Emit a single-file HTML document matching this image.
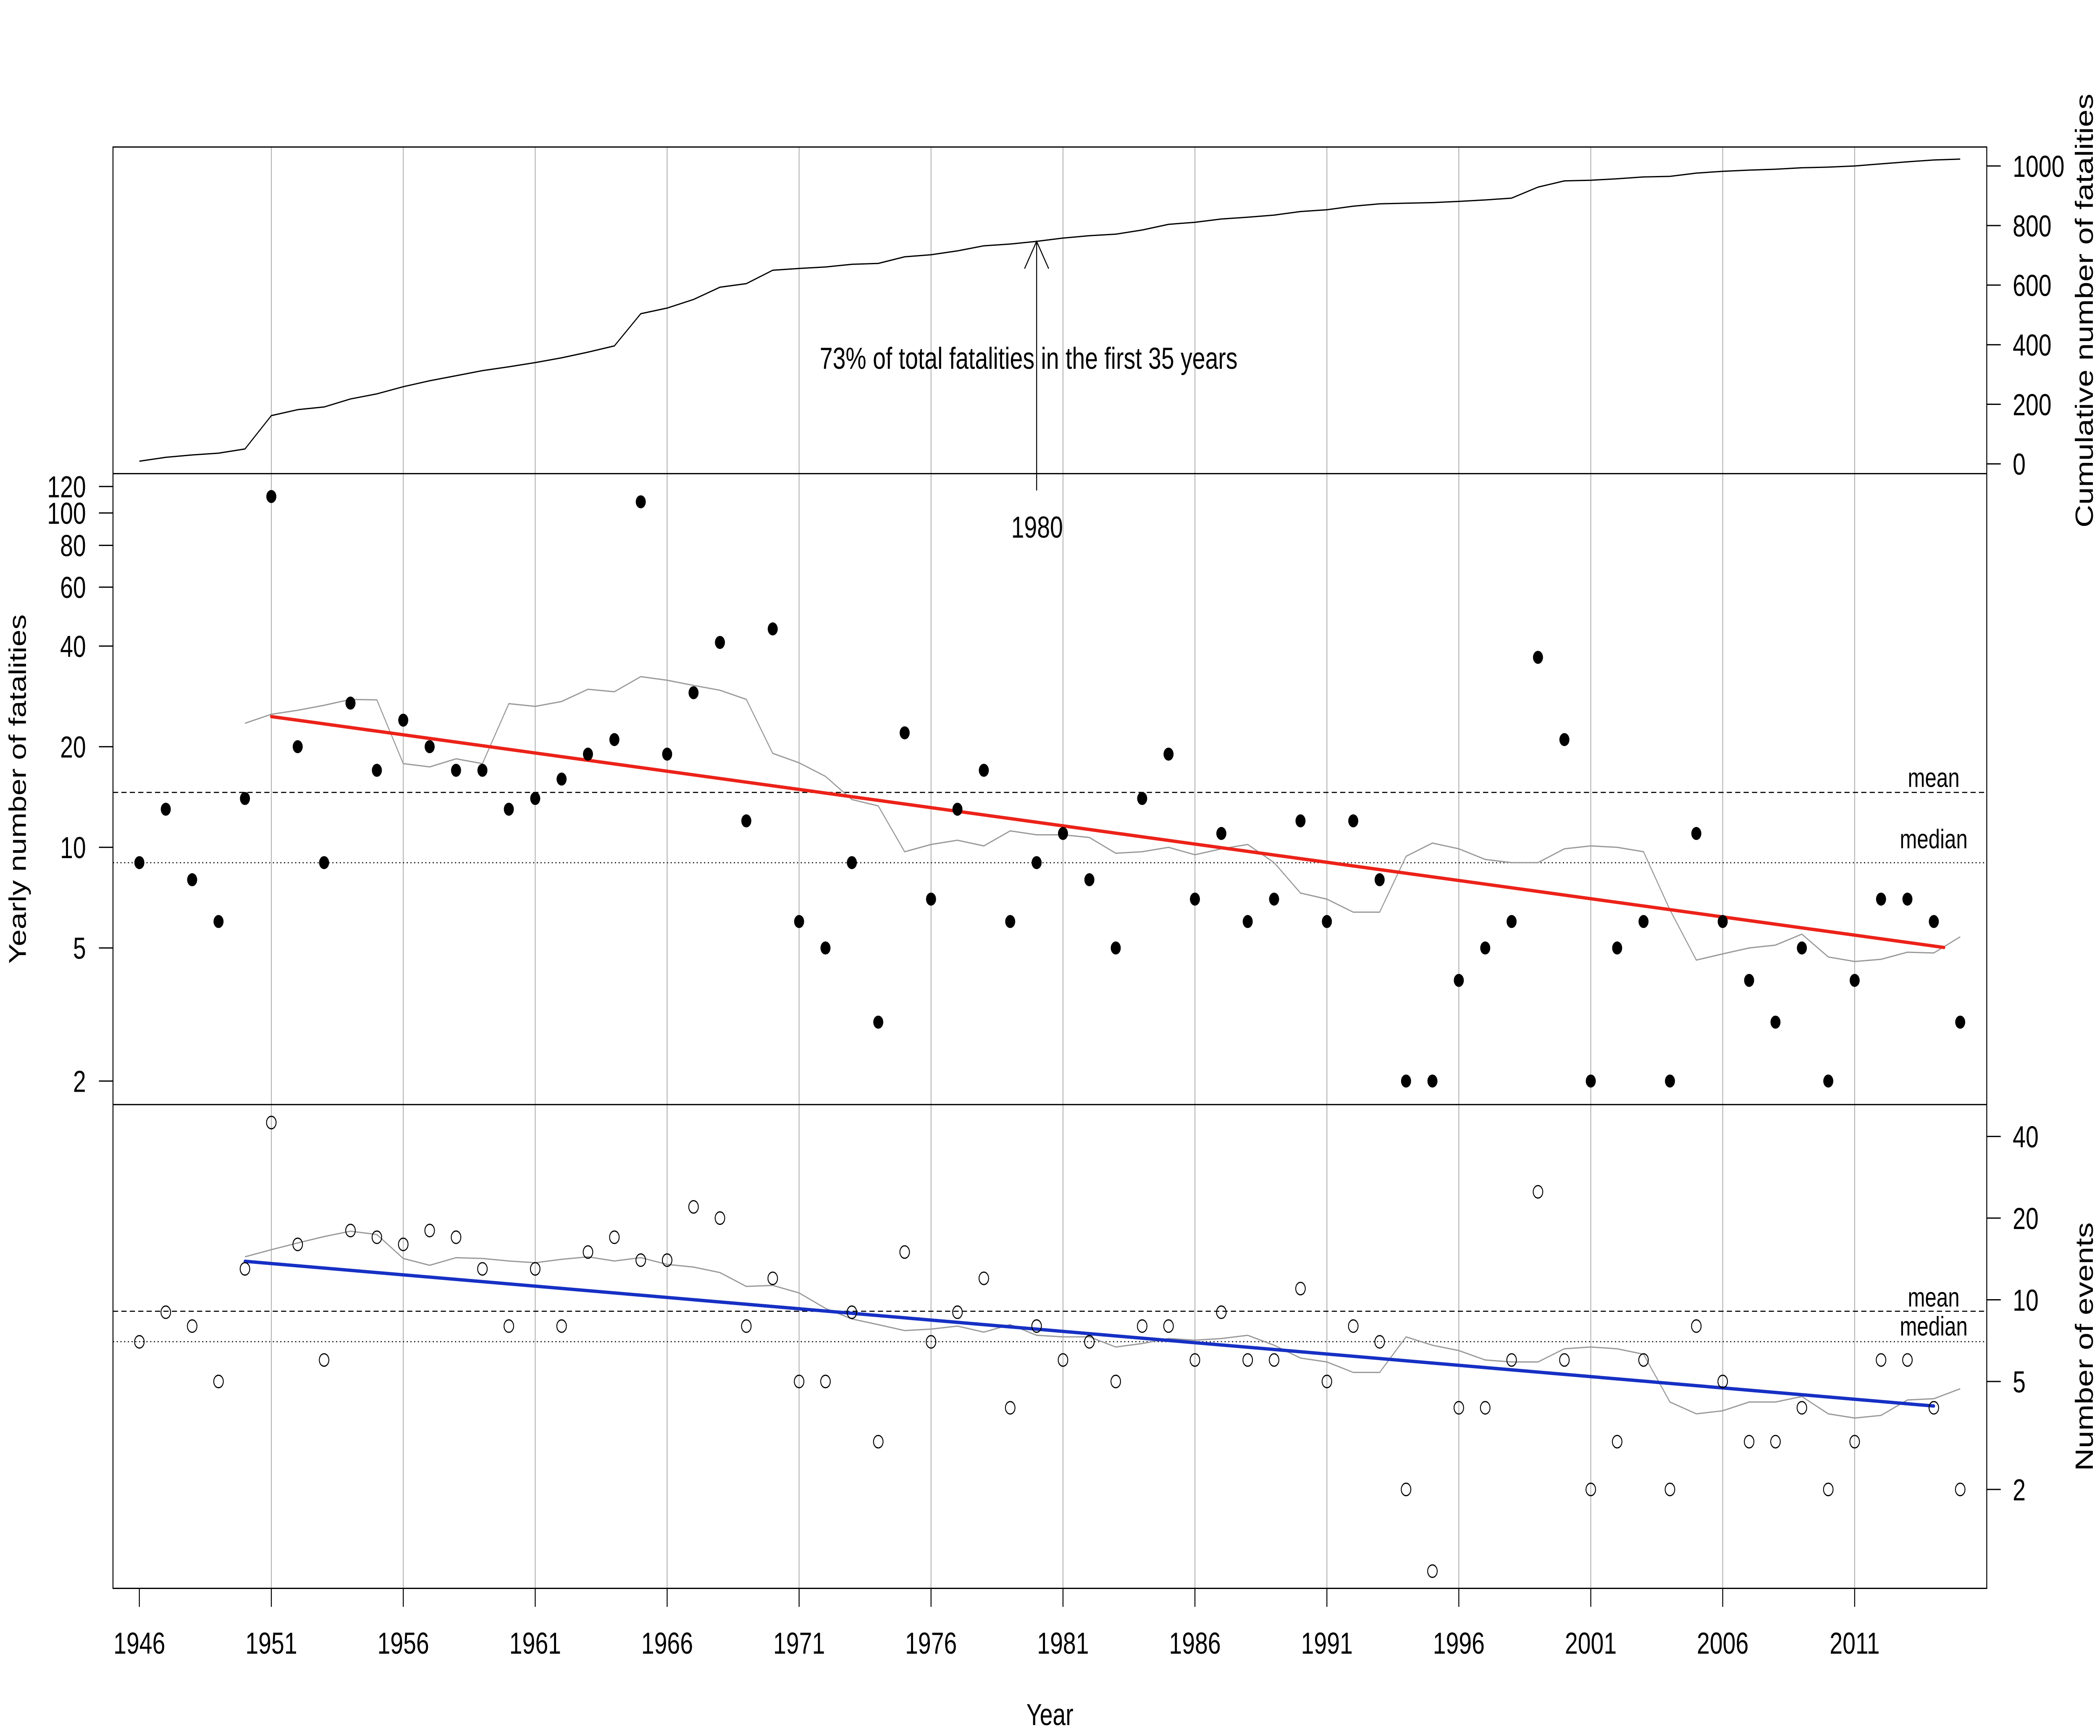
<!DOCTYPE html>
<html>
<head>
<meta charset="utf-8">
<style>
html,body{margin:0;padding:0;background:#fff;width:100%;height:100%;overflow:hidden;}
svg{display:block;width:100vw;height:100vh;}
text{font-family:"Liberation Sans",Arial,sans-serif;fill:#000;}
</style>
</head>
<body>
<svg viewBox="0 0 6496 4133" preserveAspectRatio="none" xmlns="http://www.w3.org/2000/svg">
<rect x="0" y="0" width="6496" height="4133" fill="#fff"/>

<!-- vertical grid lines -->
<g stroke="#b3b3b3" stroke-width="2.8">
<line x1="839.3" y1="350" x2="839.3" y2="3781.5"/>
<line x1="1247.4" y1="350" x2="1247.4" y2="3781.5"/>
<line x1="1655.6" y1="350" x2="1655.6" y2="3781.5"/>
<line x1="2063.7" y1="350" x2="2063.7" y2="3781.5"/>
<line x1="2471.9" y1="350" x2="2471.9" y2="3781.5"/>
<line x1="2880.0" y1="350" x2="2880.0" y2="3781.5"/>
<line x1="3288.2" y1="350" x2="3288.2" y2="3781.5"/>
<line x1="3696.3" y1="350" x2="3696.3" y2="3781.5"/>
<line x1="4104.5" y1="350" x2="4104.5" y2="3781.5"/>
<line x1="4512.6" y1="350" x2="4512.6" y2="3781.5"/>
<line x1="4920.8" y1="350" x2="4920.8" y2="3781.5"/>
<line x1="5328.9" y1="350" x2="5328.9" y2="3781.5"/>
<line x1="5737.1" y1="350" x2="5737.1" y2="3781.5"/>
</g>

<!-- mean / median lines -->
<g stroke="#000" stroke-width="2.6" fill="none">
<line x1="349.5" y1="1886.6" x2="6145.7" y2="1886.6" stroke-dasharray="16 10"/>
<line x1="349.5" y1="2053.9" x2="6145.7" y2="2053.9" stroke-dasharray="3.5 8"/>
<line x1="349.5" y1="3121.8" x2="6145.7" y2="3121.8" stroke-dasharray="16 10"/>
<line x1="349.5" y1="3194.2" x2="6145.7" y2="3194.2" stroke-dasharray="3.5 8"/>
</g>

<!-- cumulative line -->
<polyline fill="none" stroke="#000" stroke-width="3" stroke-linejoin="round" points="431.1,1098.0 512.8,1088.8 594.4,1083.1 676.0,1078.9 757.7,1068.9 839.3,989.5 920.9,975.3 1002.5,968.9 1084.2,949.8 1165.8,937.7 1247.4,920.7 1329.1,906.5 1410.7,894.5 1492.3,882.4 1574.0,873.2 1655.6,863.2 1737.2,851.9 1818.8,838.4 1900.5,823.5 1982.1,746.9 2063.7,733.4 2145.4,712.9 2227.0,683.8 2308.6,675.3 2390.3,643.4 2471.9,639.1 2553.5,635.6 2635.1,629.2 2716.8,627.1 2798.4,611.4 2880.0,606.5 2961.7,597.3 3043.3,585.2 3124.9,581.0 3206.6,574.6 3288.2,566.8 3369.8,561.1 3451.4,557.5 3533.1,547.6 3614.7,534.1 3696.3,529.2 3778.0,521.4 3859.6,517.1 3941.2,512.1 4022.9,503.6 4104.5,499.4 4186.1,490.9 4267.7,485.2 4349.4,483.8 4431.0,482.4 4512.6,479.5 4594.3,476.0 4675.9,471.7 4757.5,445.5 4839.2,430.6 4920.8,429.1 5002.4,425.6 5084.0,421.3 5165.7,419.9 5247.3,412.1 5328.9,407.9 5410.6,405.0 5492.2,402.9 5573.8,399.4 5655.5,397.9 5737.1,395.1 5818.7,390.1 5900.3,385.2 5982.0,380.9 6063.6,378.8"/>

<!-- gray moving averages -->
<polyline fill="none" stroke="#999" stroke-width="3" points="757.7,1721.9 839.3,1700.5 920.9,1691.0 1002.5,1679.1 1084.2,1665.1 1165.8,1666.3 1247.4,1818.0 1329.1,1825.8 1410.7,1806.5 1492.3,1818.0 1574.0,1675.2 1655.6,1681.7 1737.2,1670.1 1818.8,1641.0 1900.5,1646.9 1982.1,1610.9 2063.7,1619.5 2145.4,1631.8 2227.0,1643.3 2308.6,1665.1 2390.3,1793.6 2471.9,1816.0 2553.5,1848.4 2635.1,1903.5 2716.8,1918.7 2798.4,2027.8 2880.0,2010.5 2961.7,2000.4 3043.3,2013.9 3124.9,1978.1 3206.6,1987.5 3288.2,1987.5 3369.8,1993.9 3451.4,2031.4 3533.1,2027.8 3614.7,2017.3 3696.3,2035.0 3778.0,2020.8 3859.6,2010.5 3941.2,2053.7 4022.9,2126.1 4104.5,2140.6 4186.1,2171.6 4267.7,2171.6 4349.4,2038.7 4431.0,2007.1 4512.6,2020.8 4594.3,2046.1 4675.9,2053.7 4757.5,2053.7 4839.2,2020.8 4920.8,2013.9 5002.4,2017.3 5084.0,2027.8 5165.7,2166.2 5247.3,2285.7 5328.9,2271.0 5410.6,2256.9 5492.2,2250.1 5573.8,2224.0 5655.5,2278.3 5737.1,2289.1 5818.7,2283.9 5900.3,2267.0 5982.0,2268.7 6063.6,2230.3"/>
<polyline fill="none" stroke="#999" stroke-width="3" points="757.7,2992.2 839.3,2975.2 920.9,2959.2 1002.5,2944.0 1084.2,2931.2 1165.8,2939.1 1247.4,2996.1 1329.1,3012.4 1410.7,2994.2 1492.3,2996.1 1574.0,3002.1 1655.6,3006.2 1737.2,2998.1 1818.8,2992.2 1900.5,3002.1 1982.1,2994.2 2063.7,3010.3 2145.4,3016.6 2227.0,3029.7 2308.6,3062.7 2390.3,3060.2 2471.9,3078.2 2553.5,3114.9 2635.1,3140.1 2716.8,3153.6 2798.4,3167.8 2880.0,3164.2 2961.7,3157.1 3043.3,3171.5 3124.9,3153.6 3206.6,3179.0 3288.2,3182.8 3369.8,3182.8 3451.4,3206.9 3533.1,3198.6 3614.7,3186.7 3696.3,3190.6 3778.0,3186.7 3859.6,3179.0 3941.2,3202.7 4022.9,3233.2 4104.5,3242.5 4186.1,3267.4 4267.7,3267.4 4349.4,3182.8 4431.0,3202.7 4512.6,3215.4 4594.3,3237.8 4675.9,3242.5 4757.5,3242.5 4839.2,3211.1 4920.8,3206.9 5002.4,3211.1 5084.0,3224.1 5165.7,3337.9 5247.3,3366.0 5328.9,3358.7 5410.6,3337.9 5492.2,3337.9 5573.8,3324.8 5655.5,3366.0 5737.1,3376.0 5818.7,3369.7 5900.3,3333.0 5982.0,3330.0 6063.6,3306.3"/>

<!-- regression lines -->
<line x1="839.3" y1="1706" x2="6013.5" y2="2255.7" stroke="#ec2219" stroke-width="8" stroke-linecap="round"/>
<line x1="757.7" y1="3002.8" x2="5982.0" y2="3347.4" stroke="#1630c4" stroke-width="8" stroke-linecap="round"/>

<!-- filled dots: yearly fatalities -->
<g fill="#000">
<circle cx="431.1" cy="2053.7" r="15.5"/><circle cx="512.8" cy="1926.6" r="15.5"/><circle cx="594.4" cy="2094.4" r="15.5"/><circle cx="676.0" cy="2193.9" r="15.5"/><circle cx="757.7" cy="1901.0" r="15.5"/>
<circle cx="839.3" cy="1182.1" r="15.5"/><circle cx="920.9" cy="1777.7" r="15.5"/><circle cx="1002.5" cy="2053.7" r="15.5"/><circle cx="1084.2" cy="1673.9" r="15.5"/><circle cx="1165.8" cy="1833.9" r="15.5"/>
<circle cx="1247.4" cy="1714.6" r="15.5"/><circle cx="1329.1" cy="1777.7" r="15.5"/><circle cx="1410.7" cy="1833.9" r="15.5"/><circle cx="1492.3" cy="1833.9" r="15.5"/><circle cx="1574.0" cy="1926.6" r="15.5"/>
<circle cx="1655.6" cy="1901.0" r="15.5"/><circle cx="1737.2" cy="1854.8" r="15.5"/><circle cx="1818.8" cy="1795.4" r="15.5"/><circle cx="1900.5" cy="1760.8" r="15.5"/><circle cx="1982.1" cy="1194.7" r="15.5"/>
<circle cx="2063.7" cy="1795.4" r="15.5"/><circle cx="2145.4" cy="1649.2" r="15.5"/><circle cx="2227.0" cy="1529.5" r="15.5"/><circle cx="2308.6" cy="1954.3" r="15.5"/><circle cx="2390.3" cy="1497.3" r="15.5"/>
<circle cx="2471.9" cy="2193.9" r="15.5"/><circle cx="2553.5" cy="2256.9" r="15.5"/><circle cx="2635.1" cy="2053.7" r="15.5"/><circle cx="2716.8" cy="2433.5" r="15.5"/><circle cx="2798.4" cy="1744.7" r="15.5"/>
<circle cx="2880.0" cy="2140.6" r="15.5"/><circle cx="2961.7" cy="1926.6" r="15.5"/><circle cx="3043.3" cy="1833.9" r="15.5"/><circle cx="3124.9" cy="2193.9" r="15.5"/><circle cx="3206.6" cy="2053.7" r="15.5"/>
<circle cx="3288.2" cy="1984.3" r="15.5"/><circle cx="3369.8" cy="2094.4" r="15.5"/><circle cx="3451.4" cy="2256.9" r="15.5"/><circle cx="3533.1" cy="1901.0" r="15.5"/><circle cx="3614.7" cy="1795.4" r="15.5"/>
<circle cx="3696.3" cy="2140.6" r="15.5"/><circle cx="3778.0" cy="1984.3" r="15.5"/><circle cx="3859.6" cy="2193.9" r="15.5"/><circle cx="3941.2" cy="2140.6" r="15.5"/><circle cx="4022.9" cy="1954.3" r="15.5"/>
<circle cx="4104.5" cy="2193.9" r="15.5"/><circle cx="4186.1" cy="1954.3" r="15.5"/><circle cx="4267.7" cy="2094.4" r="15.5"/><circle cx="4349.4" cy="2573.7" r="15.5"/><circle cx="4431.0" cy="2573.7" r="15.5"/>
<circle cx="4512.6" cy="2334.1" r="15.5"/><circle cx="4594.3" cy="2256.9" r="15.5"/><circle cx="4675.9" cy="2193.9" r="15.5"/><circle cx="4757.5" cy="1565.0" r="15.5"/><circle cx="4839.2" cy="1760.8" r="15.5"/>
<circle cx="4920.8" cy="2573.7" r="15.5"/><circle cx="5002.4" cy="2256.9" r="15.5"/><circle cx="5084.0" cy="2193.9" r="15.5"/><circle cx="5165.7" cy="2573.7" r="15.5"/><circle cx="5247.3" cy="1984.3" r="15.5"/>
<circle cx="5328.9" cy="2193.9" r="15.5"/><circle cx="5410.6" cy="2334.1" r="15.5"/><circle cx="5492.2" cy="2433.5" r="15.5"/><circle cx="5573.8" cy="2256.9" r="15.5"/><circle cx="5655.5" cy="2573.7" r="15.5"/>
<circle cx="5737.1" cy="2334.1" r="15.5"/><circle cx="5818.7" cy="2140.6" r="15.5"/><circle cx="5900.3" cy="2140.6" r="15.5"/><circle cx="5982.0" cy="2193.9" r="15.5"/><circle cx="6063.6" cy="2433.5" r="15.5"/>
</g>

<!-- hollow circles: number of events -->
<g fill="none" stroke="#000" stroke-width="2.8">
<circle cx="431.1" cy="3194.6" r="14.8"/><circle cx="512.8" cy="3124.1" r="14.8"/><circle cx="594.4" cy="3157.1" r="14.8"/><circle cx="676.0" cy="3289.0" r="14.8"/><circle cx="757.7" cy="3020.9" r="14.8"/>
<circle cx="839.3" cy="2672.5" r="14.8"/><circle cx="920.9" cy="2962.6" r="14.8"/><circle cx="1002.5" cy="3237.8" r="14.8"/><circle cx="1084.2" cy="2929.6" r="14.8"/><circle cx="1165.8" cy="2945.6" r="14.8"/>
<circle cx="1247.4" cy="2962.6" r="14.8"/><circle cx="1329.1" cy="2929.6" r="14.8"/><circle cx="1410.7" cy="2945.6" r="14.8"/><circle cx="1492.3" cy="3020.9" r="14.8"/><circle cx="1574.0" cy="3157.1" r="14.8"/>
<circle cx="1655.6" cy="3020.9" r="14.8"/><circle cx="1737.2" cy="3157.1" r="14.8"/><circle cx="1818.8" cy="2980.8" r="14.8"/><circle cx="1900.5" cy="2945.6" r="14.8"/><circle cx="1982.1" cy="3000.1" r="14.8"/>
<circle cx="2063.7" cy="3000.1" r="14.8"/><circle cx="2145.4" cy="2873.3" r="14.8"/><circle cx="2227.0" cy="2900.0" r="14.8"/><circle cx="2308.6" cy="3157.1" r="14.8"/><circle cx="2390.3" cy="3043.4" r="14.8"/>
<circle cx="2471.9" cy="3289.0" r="14.8"/><circle cx="2553.5" cy="3289.0" r="14.8"/><circle cx="2635.1" cy="3124.1" r="14.8"/><circle cx="2716.8" cy="3432.3" r="14.8"/><circle cx="2798.4" cy="2980.8" r="14.8"/>
<circle cx="2880.0" cy="3194.6" r="14.8"/><circle cx="2961.7" cy="3124.1" r="14.8"/><circle cx="3043.3" cy="3043.4" r="14.8"/><circle cx="3124.9" cy="3351.6" r="14.8"/><circle cx="3206.6" cy="3157.1" r="14.8"/>
<circle cx="3288.2" cy="3237.8" r="14.8"/><circle cx="3369.8" cy="3194.6" r="14.8"/><circle cx="3451.4" cy="3289.0" r="14.8"/><circle cx="3533.1" cy="3157.1" r="14.8"/><circle cx="3614.7" cy="3157.1" r="14.8"/>
<circle cx="3696.3" cy="3237.8" r="14.8"/><circle cx="3778.0" cy="3124.1" r="14.8"/><circle cx="3859.6" cy="3237.8" r="14.8"/><circle cx="3941.2" cy="3237.8" r="14.8"/><circle cx="4022.9" cy="3067.8" r="14.8"/>
<circle cx="4104.5" cy="3289.0" r="14.8"/><circle cx="4186.1" cy="3157.1" r="14.8"/><circle cx="4267.7" cy="3194.6" r="14.8"/><circle cx="4349.4" cy="3546.0" r="14.8"/><circle cx="4431.0" cy="3740.5" r="14.8"/>
<circle cx="4512.6" cy="3351.6" r="14.8"/><circle cx="4594.3" cy="3351.6" r="14.8"/><circle cx="4675.9" cy="3237.8" r="14.8"/><circle cx="4757.5" cy="2837.4" r="14.8"/><circle cx="4839.2" cy="3237.8" r="14.8"/>
<circle cx="4920.8" cy="3546.0" r="14.8"/><circle cx="5002.4" cy="3432.3" r="14.8"/><circle cx="5084.0" cy="3237.8" r="14.8"/><circle cx="5165.7" cy="3546.0" r="14.8"/><circle cx="5247.3" cy="3157.1" r="14.8"/>
<circle cx="5328.9" cy="3289.0" r="14.8"/><circle cx="5410.6" cy="3432.3" r="14.8"/><circle cx="5492.2" cy="3432.3" r="14.8"/><circle cx="5573.8" cy="3351.6" r="14.8"/><circle cx="5655.5" cy="3546.0" r="14.8"/>
<circle cx="5737.1" cy="3432.3" r="14.8"/><circle cx="5818.7" cy="3237.8" r="14.8"/><circle cx="5900.3" cy="3237.8" r="14.8"/><circle cx="5982.0" cy="3351.6" r="14.8"/><circle cx="6063.6" cy="3546.0" r="14.8"/>
</g>

<!-- frames -->
<g stroke="#000" stroke-width="3" fill="none">
<rect x="349.5" y="350" width="5796.2" height="3431.5"/>
<line x1="349.5" y1="1127.6" x2="6145.7" y2="1127.6"/>
<line x1="349.5" y1="2629.7" x2="6145.7" y2="2629.7"/>
</g>

<!-- arrow at 1980 -->
<g stroke="#000" stroke-width="3" fill="none">
<line x1="3206.6" y1="1167.8" x2="3206.6" y2="574.6"/>
<polyline points="3169.3,639.6 3206.6,574.6 3243.9,639.6"/>
</g>

<!-- ticks -->
<g stroke="#000" stroke-width="3">
<line x1="306" y1="2573.7" x2="349.5" y2="2573.7"/>
<line x1="306" y1="2256.9" x2="349.5" y2="2256.9"/>
<line x1="306" y1="2017.3" x2="349.5" y2="2017.3"/>
<line x1="306" y1="1777.7" x2="349.5" y2="1777.7"/>
<line x1="306" y1="1538.1" x2="349.5" y2="1538.1"/>
<line x1="306" y1="1397.9" x2="349.5" y2="1397.9"/>
<line x1="306" y1="1298.4" x2="349.5" y2="1298.4"/>
<line x1="306" y1="1221.3" x2="349.5" y2="1221.3"/>
<line x1="306" y1="1158.3" x2="349.5" y2="1158.3"/>
<line x1="6145.7" y1="1104.4" x2="6189" y2="1104.4"/>
<line x1="6145.7" y1="962.5" x2="6189" y2="962.5"/>
<line x1="6145.7" y1="820.7" x2="6189" y2="820.7"/>
<line x1="6145.7" y1="678.8" x2="6189" y2="678.8"/>
<line x1="6145.7" y1="537.0" x2="6189" y2="537.0"/>
<line x1="6145.7" y1="395.1" x2="6189" y2="395.1"/>
<line x1="6145.7" y1="3546.0" x2="6189" y2="3546.0"/>
<line x1="6145.7" y1="3289.0" x2="6189" y2="3289.0"/>
<line x1="6145.7" y1="3094.5" x2="6189" y2="3094.5"/>
<line x1="6145.7" y1="2900.0" x2="6189" y2="2900.0"/>
<line x1="6145.7" y1="2705.6" x2="6189" y2="2705.6"/>
<line x1="431.1" y1="3781.5" x2="431.1" y2="3825.5"/>
<line x1="839.3" y1="3781.5" x2="839.3" y2="3825.5"/>
<line x1="1247.4" y1="3781.5" x2="1247.4" y2="3825.5"/>
<line x1="1655.6" y1="3781.5" x2="1655.6" y2="3825.5"/>
<line x1="2063.7" y1="3781.5" x2="2063.7" y2="3825.5"/>
<line x1="2471.9" y1="3781.5" x2="2471.9" y2="3825.5"/>
<line x1="2880.0" y1="3781.5" x2="2880.0" y2="3825.5"/>
<line x1="3288.2" y1="3781.5" x2="3288.2" y2="3825.5"/>
<line x1="3696.3" y1="3781.5" x2="3696.3" y2="3825.5"/>
<line x1="4104.5" y1="3781.5" x2="4104.5" y2="3825.5"/>
<line x1="4512.6" y1="3781.5" x2="4512.6" y2="3825.5"/>
<line x1="4920.8" y1="3781.5" x2="4920.8" y2="3825.5"/>
<line x1="5328.9" y1="3781.5" x2="5328.9" y2="3825.5"/>
<line x1="5737.1" y1="3781.5" x2="5737.1" y2="3825.5"/>
</g>

<!-- left tick labels -->
<g font-size="72" text-anchor="end">
<text x="266" y="2599.5">2</text>
<text x="266" y="2282.7">5</text>
<text x="266" y="2043.1">10</text>
<text x="266" y="1803.5">20</text>
<text x="266" y="1563.9">40</text>
<text x="266" y="1423.7">60</text>
<text x="266" y="1324.2">80</text>
<text x="266" y="1247.1">100</text>
<text x="266" y="1184.1">120</text>
</g>

<!-- right tick labels -->
<g font-size="72" text-anchor="start">
<text x="6226" y="1130.2">0</text>
<text x="6226" y="988.3">200</text>
<text x="6226" y="846.5">400</text>
<text x="6226" y="704.6">600</text>
<text x="6226" y="562.8">800</text>
<text x="6226" y="420.9">1000</text>
<text x="6226" y="3571.8">2</text>
<text x="6226" y="3314.8">5</text>
<text x="6226" y="3120.3">10</text>
<text x="6226" y="2925.8">20</text>
<text x="6226" y="2731.4">40</text>
</g>

<!-- bottom tick labels -->
<g font-size="72" text-anchor="middle">
<text x="431.1" y="3937">1946</text>
<text x="839.3" y="3937">1951</text>
<text x="1247.4" y="3937">1956</text>
<text x="1655.6" y="3937">1961</text>
<text x="2063.7" y="3937">1966</text>
<text x="2471.9" y="3937">1971</text>
<text x="2880.0" y="3937">1976</text>
<text x="3288.2" y="3937">1981</text>
<text x="3696.3" y="3937">1986</text>
<text x="4104.5" y="3937">1991</text>
<text x="4512.6" y="3937">1996</text>
<text x="4920.8" y="3937">2001</text>
<text x="5328.9" y="3937">2006</text>
<text x="5737.1" y="3937">2011</text>
</g>

<!-- axis titles -->
<text x="3247.6" y="4107" font-size="72" text-anchor="middle">Year</text>
<text transform="translate(79.6,1878.6) rotate(-90)" font-size="75" text-anchor="middle" textLength="832" lengthAdjust="spacingAndGlyphs">Yearly number of fatalities</text>
<text transform="translate(6474,739.5) rotate(-90)" font-size="77" text-anchor="middle" textLength="1033" lengthAdjust="spacingAndGlyphs">Cumulative number of fatalities</text>
<text transform="translate(6474,3206) rotate(-90)" font-size="77" text-anchor="middle" textLength="592" lengthAdjust="spacingAndGlyphs">Number of events</text>

<!-- annotations -->
<text x="3182" y="878" font-size="72" text-anchor="middle">73% of total fatalities in the first 35 years</text>
<text x="3208" y="1280" font-size="72" text-anchor="middle">1980</text>

<g font-size="64" text-anchor="middle">
<text x="5981.5" y="1873.4">mean</text>
<text x="5981.5" y="2019.7">median</text>
<text x="5981.5" y="3110.7">mean</text>
<text x="5981.5" y="3179.4">median</text>
</g>
</svg>
</body>
</html>
